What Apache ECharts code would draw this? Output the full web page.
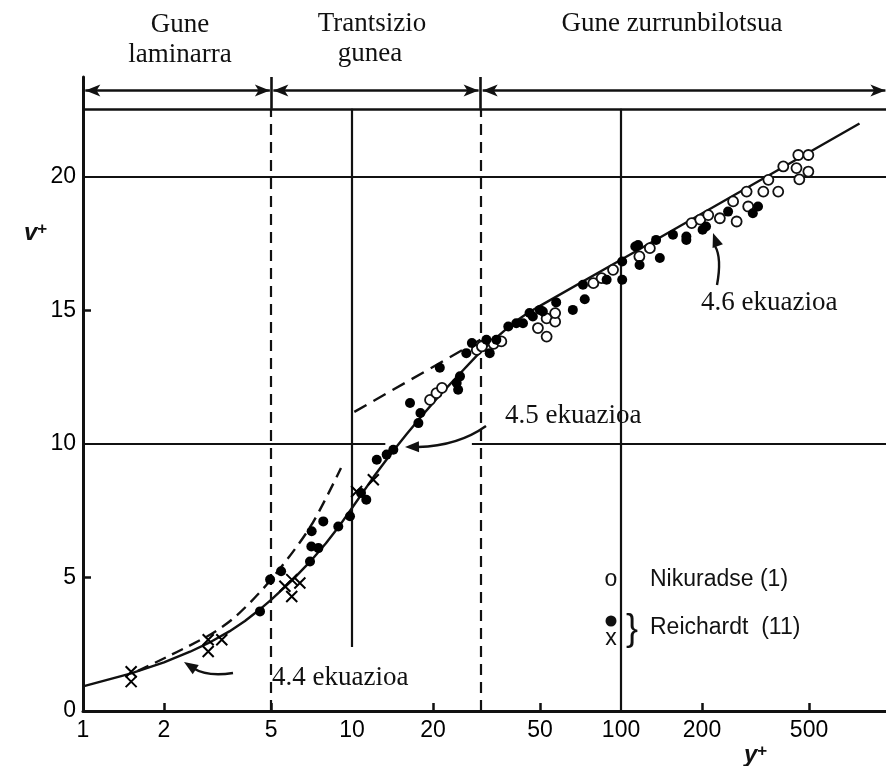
<!DOCTYPE html>
<html><head><meta charset="utf-8">
<script src="https://cdn.jsdelivr.net/npm/echarts@6/dist/echarts.min.js"></script>
<style>html,body{margin:0;padding:0;background:#fff}#c{width:886px;height:766px}</style>
</head><body><div id="c"></div><script>
// ---- axis ticks ----
const xTickLabels = [1, 2, 5, 10, 20, 50, 100, 200, 500];
const xTickMarks = [2, 5, 20, 50, 200, 500];
const yTickLabels = [0, 5, 10, 15, 20];
const yTickMarks = [5, 15];

// ---- smooth profile through the data (solid, curved part) ----
const curveX = [1, 1.5, 2, 2.5, 3, 3.5, 4, 4.5, 5, 6, 7, 8, 9, 10, 12, 14, 16, 18, 21, 25, 30, 35, 40, 45, 50];
const curveY = [0.92, 1.40, 1.82, 2.22, 2.60, 2.98, 3.37, 3.77, 4.16, 4.90, 5.60, 6.28, 6.95, 7.60, 8.75, 9.65, 10.38, 11.0, 11.78, 12.6, 13.45, 14.05, 14.55, 14.9, 15.17];
// ---- eq 4.6 (solid, straight on the log axis) ----
const eq46X = [50, 100, 770];
const eq46Y = [15.17, 16.9, 22.0];

// ---- eq 4.4 (dashed, laminar) ----
const lamX = [1.6, 2.9, 3.7, 5, 7, 9.1];
const lamY = [1.5, 2.8, 3.55, 4.92, 6.9, 9.1];

// ---- eq 4.6 extension (dashed) ----
const logExtX = [10.2, 30];
const logExtY = [11.2, 13.9];

// ---- Nikuradse (1): open circles ----
const nikX = [19.5, 20.6, 21.6, 29.1, 30.4, 33.6, 35.9, 49.1, 52.9, 52.9, 56.9, 56.9, 78.9, 84.7, 93.4, 117, 128, 183, 197, 211, 233, 261, 269, 293, 297, 338, 384, 353, 401, 456, 497, 449, 497, 460];
const nikY = [11.65, 11.9, 12.1, 13.52, 13.65, 13.75, 13.84, 14.34, 14.02, 14.7, 14.58, 14.9, 16.02, 16.21, 16.52, 17.02, 17.33, 18.27, 18.4, 18.57, 18.45, 19.08, 18.33, 19.45, 18.89, 19.45, 19.45, 19.89, 20.39, 20.82, 20.82, 20.33, 20.2, 19.91];

// ---- Reichardt (11): filled dots ----
const reiDotX = [4.55, 4.96, 5.45, 6.98, 7.06, 7.5, 7.08, 7.82, 8.89, 9.83, 10.8, 11.3, 12.36, 13.45, 14.24, 16.43, 17.65, 17.96, 21.2, 24.5, 25.2, 24.8, 26.6, 27.9, 31.6, 32.5, 34.4, 38.1, 40.8, 43.2, 45.7, 47.0, 49.9, 51.2, 57.4, 66.2, 72.2, 73.3, 88.4, 101, 101, 113, 115.7, 117.2, 139.4, 135, 156, 174.9, 174.9, 201, 207, 250, 309, 323];
const reiDotY = [3.73, 4.92, 5.23, 5.6, 6.16, 6.1, 6.73, 7.1, 6.91, 7.29, 8.16, 7.91, 9.41, 9.6, 9.78, 11.53, 10.78, 11.16, 12.85, 12.28, 12.53, 12.03, 13.4, 13.78, 13.9, 13.4, 13.9, 14.4, 14.52, 14.52, 14.9, 14.77, 15.02, 14.96, 15.3, 15.02, 15.96, 15.42, 16.15, 16.15, 16.83, 17.39, 17.45, 16.7, 16.96, 17.64, 17.83, 17.64, 17.77, 18.02, 18.14, 18.7, 18.64, 18.89];

// ---- Reichardt (11): crosses ----
const reiCrossX = [1.51, 1.51, 2.92, 2.92, 3.28, 5.63, 5.97, 5.97, 6.4, 10.4, 12.0];
const reiCrossY = [1.47, 1.1, 2.67, 2.23, 2.67, 4.67, 4.29, 4.92, 4.79, 8.22, 8.66];

// ---- zone boundaries / frame values ----
const zoneBounds = [5, 30];
const xMin = 1, xMax = 966, yMin = 0, yMax = 23.74;
const topLineY = 22.55, arrowLineY = 23.23;

const zip = (a, b) => a.map((v, i) => [v, b[i]]);
const INK = '#111';

const chart = echarts.init(document.getElementById('c'), null, {renderer: 'canvas'});

const solid = (w) => ({color: INK, width: w || 2.2, type: 'solid'});
const dashed = (w) => ({color: INK, width: w || 2.2, type: [11, 7]});
const seg = (x1, y1, x2, y2, style, s1, s2) => [
  {coord: [x1, y1], lineStyle: style, symbol: s1 || 'none'},
  {coord: [x2, y2], symbol: s2 || 'none'}
];

const markLines = [
  seg(xMin, topLineY, xMax, topLineY, solid(2.6)),
  seg(xMin, 20, xMax, 20, solid(2.2)),
  seg(xMin, 10, 13.3, 10, solid(2.2)),
  seg(27.9, 10, xMax, 10, solid(2.2)),
  seg(10, 2.4, 10, topLineY, solid(2.2)),
  seg(100, 0, 100, topLineY, solid(2.2)),
  seg(zoneBounds[0], 0, zoneBounds[0], topLineY, dashed(2.2)),
  seg(zoneBounds[1], 0, zoneBounds[1], topLineY, dashed(2.2)),
  seg(zoneBounds[0], topLineY, zoneBounds[0], yMax, solid(2.6)),
  seg(zoneBounds[1], topLineY, zoneBounds[1], yMax, solid(2.6)),
  seg(xMin * 1.02, arrowLineY, zoneBounds[0] * 0.99, arrowLineY, solid(2.6), 'arrow', 'arrow'),
  seg(zoneBounds[0] * 1.02, arrowLineY, zoneBounds[1] * 0.985, arrowLineY, solid(2.6), 'arrow', 'arrow'),
  seg(zoneBounds[1] * 1.02, arrowLineY, xMax * 0.995, arrowLineY, solid(2.6), 'arrow', 'arrow')
];

const crossPath = 'path://M0,0L10,10M10,0L0,10';

chart.setOption({
  animation: false,
  backgroundColor: '#fff',
  grid: {left: 83, right: 0, top: 77, bottom: 55, containLabel: false},
  xAxis: {
    type: 'log', logBase: 10, min: xMin, max: xMax,
    axisLine: {show: true, onZero: false, lineStyle: {color: INK, width: 3}},
    axisTick: {show: true, inside: true, length: 8, customValues: xTickMarks, lineStyle: {color: INK, width: 2.5}},
    axisLabel: {show: true, customValues: xTickLabels, margin: 8, color: '#000', fontSize: 23, fontFamily: 'Liberation Sans, Arial, sans-serif'},
    splitLine: {show: false}, minorTick: {show: false}
  },
  yAxis: {
    type: 'value', min: yMin, max: yMax,
    axisLine: {show: true, onZero: false, lineStyle: {color: INK, width: 3}},
    axisTick: {show: true, inside: true, length: 8, customValues: yTickMarks, lineStyle: {color: INK, width: 2.5}},
    axisLabel: {show: true, customValues: yTickLabels, margin: 7, color: '#000', fontSize: 23, fontFamily: 'Liberation Sans, Arial, sans-serif'},
    splitLine: {show: false}
  },
  series: [
    {
      type: 'line', name: 'profile', data: zip(curveX, curveY), smooth: false,
      showSymbol: false, lineStyle: {color: INK, width: 2.4, join: 'round'}, z: 3,
      markLine: {silent: true, symbol: ['none', 'none'], symbolSize: [9, 15], label: {show: false}, emphasis: {disabled: true}, data: markLines}
    },
    {type: 'line', name: 'eq46', data: zip(eq46X, eq46Y), showSymbol: false, lineStyle: {color: INK, width: 2.4}, z: 3},
    {type: 'line', name: 'eq44', data: zip(lamX, lamY), smooth: 0.3, showSymbol: false, lineStyle: {color: INK, width: 2.4, type: [12, 7]}, z: 3},
    {type: 'line', name: 'eq46ext', data: zip(logExtX, logExtY), showSymbol: false, lineStyle: {color: INK, width: 2.4, type: [14, 8]}, z: 3},
    {type: 'scatter', name: 'Nikuradse (1)', data: zip(nikX, nikY), symbol: 'circle', symbolSize: 10, itemStyle: {color: '#fff', borderColor: INK, borderWidth: 1.8, opacity: 1}, z: 5},
    {type: 'scatter', name: 'Reichardt dots', data: zip(reiDotX, reiDotY), symbol: 'circle', symbolSize: 10, itemStyle: {color: '#000', opacity: 1}, z: 6},
    {type: 'scatter', name: 'Reichardt crosses', data: zip(reiCrossX, reiCrossY), symbol: crossPath, symbolSize: 11, itemStyle: {color: 'none', borderColor: '#000', borderWidth: 2, opacity: 1}, z: 6}
  ]
});

// ---- annotations ----
function arrowHead(tip, from, L, W) {
  const dx = tip[0] - from[0], dy = tip[1] - from[1];
  const d = Math.hypot(dx, dy), ux = dx / d, uy = dy / d;
  const bx = tip[0] - ux * L, by = tip[1] - uy * L;
  return {type: 'polygon', shape: {points: [tip, [bx - uy * W, by + ux * W], [bx + uy * W, by - ux * W]]}, style: {fill: INK}, z: 10};
}
function curveArrow(p1, cp, p2, tip) {
  return [
    {type: 'bezierCurve', shape: {x1: p1[0], y1: p1[1], cpx1: cp[0], cpy1: cp[1], x2: p2[0], y2: p2[1]}, style: {stroke: INK, lineWidth: 2.4, fill: null}, z: 10},
    arrowHead(tip, cp, 14, 5.5)
  ];
}
const serif = 'Liberation Serif, Times New Roman, serif';
const sans = 'Liberation Sans, Arial, sans-serif';
const txt = (x, y, s, o) => Object.assign({type: 'text', x: x, y: y, z: 12, style: Object.assign({text: s, fill: INK, font: '27px ' + serif, textAlign: 'center', textVerticalAlign: 'middle'}, o || {})});

chart.setOption({
  graphic: [
    txt(180, 25, 'Gune'),
    txt(180, 55, 'laminarra'),
    txt(372, 24, 'Trantsizio'),
    txt(370, 54, 'gunea'),
    txt(672, 24, 'Gune zurrunbilotsua'),
    txt(272, 678, '4.4 ekuazioa', {textAlign: 'left'}),
    txt(505, 416, '4.5 ekuazioa', {textAlign: 'left'}),
    txt(701, 303, '4.6 ekuazioa', {textAlign: 'left'}),
    ...curveArrow([233, 673], [207, 677], [193, 668], [184, 662]),
    ...curveArrow([486, 426], [458, 446], [418, 447], [405, 447]),
    ...curveArrow([717, 285], [722, 258], [715, 246], [713, 233]),
    // legend
    txt(611, 580, 'o', {font: '23px ' + sans}),
    txt(650, 580, 'Nikuradse (1)', {font: '23px ' + sans, textAlign: 'left'}),
    {type: 'circle', shape: {cx: 611, cy: 621, r: 5.5}, style: {fill: INK}, z: 12},
    txt(611, 639, 'x', {font: '23px ' + sans}),
    txt(632, 630, '}', {font: '36px ' + sans}),
    txt(650, 628, 'Reichardt  (11)', {font: '23px ' + sans, textAlign: 'left'}),
    // axis titles
    {type: 'text', x: 24, y: 221, z: 12, style: {text: '{v|v}{p|+}', rich: {v: {font: 'italic bold 24px ' + sans, fill: INK, verticalAlign: 'bottom'}, p: {font: 'bold 17px ' + sans, fill: INK, verticalAlign: 'top'}}}},
    {type: 'text', x: 744, y: 743, z: 12, style: {text: '{v|y}{p|+}', rich: {v: {font: 'italic bold 24px ' + sans, fill: INK, verticalAlign: 'bottom'}, p: {font: 'bold 17px ' + sans, fill: INK, verticalAlign: 'top'}}}}
  ]
});
</script></body></html>
